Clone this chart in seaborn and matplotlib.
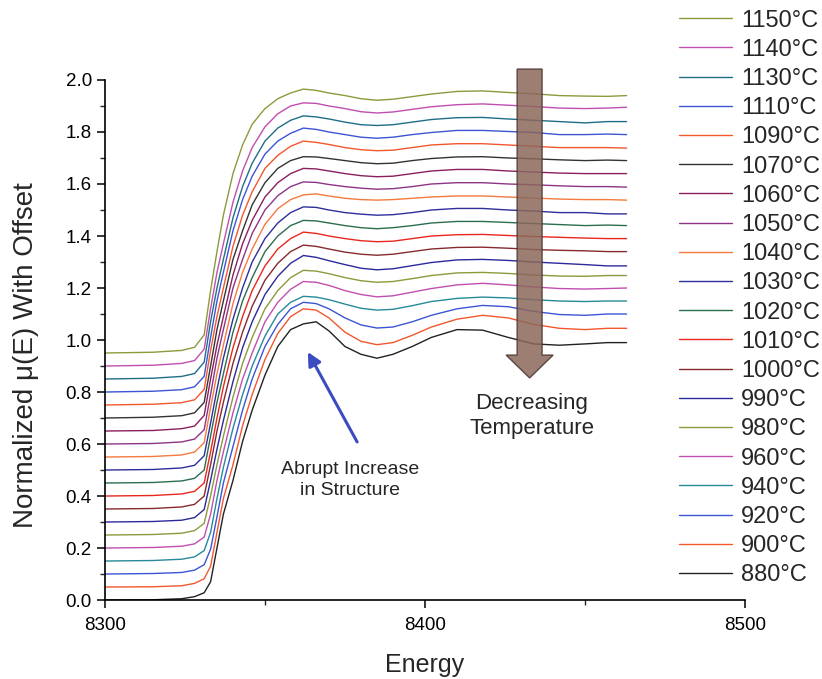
import matplotlib.pyplot as plt
from matplotlib.patches import FancyArrow
from matplotlib.ticker import MultipleLocator
import pandas as pd
import seaborn as sns

# Energy grid (eV) shared by every scan
energy = [8300, 8315, 8324, 8328, 8331, 8333, 8335, 8337, 8340, 8343, 8346,
          8350, 8354, 8358, 8362, 8366, 8370, 8375, 8380, 8385, 8390, 8396,
          8402, 8410, 8418, 8426, 8434, 8442, 8450, 8457, 8463]

# Normalized mu(E) (before the offset is added)
mu_1150 = [0.0, 0.003, 0.010, 0.022, 0.07, 0.24, 0.39, 0.53, 0.69, 0.80, 0.88, 0.94, 0.978, 1.0,
           1.015, 1.01, 1.0, 0.99, 0.978, 0.972, 0.976, 0.986, 0.996, 1.006, 1.008, 1.002, 0.997, 0.99, 0.988, 0.987, 0.99]
mu_1140 = [0.0, 0.003, 0.010, 0.021, 0.065, 0.22, 0.36, 0.47, 0.63, 0.75, 0.84, 0.92, 0.97, 1.0,
           1.012, 1.01, 1.0, 0.99, 0.978, 0.973, 0.977, 0.987, 0.997, 1.005, 1.008, 1.003, 0.998, 0.992, 0.99, 0.992, 0.995]
mu_1130 = [0.0, 0.003, 0.010, 0.021, 0.065, 0.22, 0.35, 0.46, 0.62, 0.74, 0.83, 0.915, 0.965, 0.995,
           1.012, 1.008, 1.0, 0.988, 0.978, 0.975, 0.978, 0.988, 0.998, 1.005, 1.006, 1.0, 0.995, 0.99, 0.985, 0.99, 0.99]
mu_1110 = [0.0, 0.003, 0.009, 0.020, 0.06, 0.21, 0.35, 0.46, 0.62, 0.74, 0.83, 0.915, 0.965, 0.995,
           1.015, 1.01, 1.0, 0.99, 0.98, 0.976, 0.98, 0.99, 0.998, 1.006, 1.006, 1.002, 0.998, 0.99, 0.99, 0.992, 0.99]
mu_1090 = [0.0, 0.003, 0.009, 0.020, 0.06, 0.21, 0.34, 0.45, 0.61, 0.73, 0.82, 0.91, 0.96, 0.995,
           1.015, 1.01, 1.002, 0.99, 0.982, 0.978, 0.98, 0.99, 1.0, 1.005, 1.005, 1.0, 0.995, 0.99, 0.99, 0.99, 0.988]
mu_1070 = [0.0, 0.003, 0.009, 0.020, 0.06, 0.20, 0.34, 0.45, 0.61, 0.72, 0.82, 0.905, 0.96, 0.99,
           1.005, 1.004, 0.998, 0.99, 0.982, 0.978, 0.98, 0.99, 0.998, 1.004, 1.005, 1.0, 0.997, 0.993, 0.99, 0.992, 0.99]
mu_1060 = [0.0, 0.002, 0.009, 0.019, 0.06, 0.20, 0.33, 0.44, 0.60, 0.72, 0.81, 0.90, 0.955, 0.99,
           1.01, 1.008, 1.0, 0.99, 0.982, 0.978, 0.98, 0.99, 1.0, 1.006, 1.006, 1.0, 0.996, 0.992, 0.99, 0.99, 0.99]
mu_1050 = [0.0, 0.002, 0.008, 0.019, 0.055, 0.19, 0.33, 0.44, 0.60, 0.71, 0.81, 0.90, 0.955, 0.99,
           1.008, 1.006, 0.998, 0.99, 0.984, 0.98, 0.982, 0.99, 1.0, 1.005, 1.005, 1.0, 0.997, 0.993, 0.99, 0.99, 0.988]
mu_1040 = [0.0, 0.002, 0.008, 0.019, 0.055, 0.19, 0.32, 0.43, 0.59, 0.71, 0.80, 0.895, 0.955, 0.99,
           1.008, 1.012, 1.004, 0.995, 0.99, 0.988, 0.99, 0.995, 1.0, 1.004, 1.004, 1.0, 0.996, 0.992, 0.99, 0.99, 0.988]
mu_1030 = [0.0, 0.002, 0.008, 0.018, 0.055, 0.18, 0.31, 0.43, 0.58, 0.70, 0.80, 0.89, 0.95, 0.99,
           1.012, 1.01, 1.0, 0.99, 0.984, 0.98, 0.982, 0.99, 1.0, 1.006, 1.006, 1.0, 0.996, 0.99, 0.99, 0.985, 0.985]
mu_1020 = [0.0, 0.002, 0.008, 0.018, 0.05, 0.18, 0.31, 0.42, 0.58, 0.70, 0.79, 0.89, 0.95, 0.99,
           1.01, 1.008, 1.0, 0.99, 0.982, 0.978, 0.982, 0.99, 1.0, 1.006, 1.006, 1.002, 0.998, 0.994, 0.99, 0.992, 0.99]
mu_1010 = [0.0, 0.002, 0.008, 0.018, 0.05, 0.17, 0.30, 0.42, 0.57, 0.69, 0.79, 0.885, 0.95, 0.99,
           1.015, 1.01, 1.0, 0.99, 0.982, 0.978, 0.98, 0.99, 1.0, 1.005, 1.006, 1.002, 0.998, 0.995, 0.992, 0.99, 0.99]
mu_1000 = [0.0, 0.002, 0.008, 0.018, 0.05, 0.17, 0.30, 0.41, 0.56, 0.68, 0.78, 0.88, 0.945, 0.99,
           1.015, 1.01, 1.0, 0.988, 0.98, 0.976, 0.98, 0.99, 1.0, 1.006, 1.007, 1.003, 0.998, 0.995, 0.993, 0.99, 0.99]
mu_990 = [0.0, 0.002, 0.007, 0.017, 0.048, 0.16, 0.28, 0.39, 0.54, 0.67, 0.77, 0.875, 0.945, 0.995,
          1.025, 1.018, 1.005, 0.99, 0.976, 0.97, 0.974, 0.986, 0.998, 1.008, 1.01, 1.006, 1.0, 0.995, 0.99, 0.985, 0.985]
mu_980 = [0.0, 0.002, 0.007, 0.017, 0.045, 0.15, 0.27, 0.38, 0.53, 0.66, 0.76, 0.87, 0.94, 0.99,
          1.018, 1.015, 1.005, 0.99, 0.978, 0.972, 0.975, 0.986, 0.998, 1.008, 1.01, 1.006, 1.0, 0.996, 0.995, 0.998, 0.998]
mu_960 = [0.0, 0.002, 0.007, 0.016, 0.042, 0.13, 0.26, 0.37, 0.52, 0.65, 0.75, 0.87, 0.945, 0.995,
          1.025, 1.022, 1.01, 0.99, 0.975, 0.966, 0.97, 0.984, 0.998, 1.012, 1.018, 1.012, 1.004, 0.998, 0.996, 0.998, 1.0]
mu_940 = [0.0, 0.002, 0.007, 0.016, 0.04, 0.11, 0.24, 0.36, 0.51, 0.64, 0.75, 0.865, 0.95, 0.995,
          1.018, 1.015, 1.005, 0.988, 0.972, 0.965, 0.968, 0.982, 0.998, 1.01, 1.015, 1.012, 1.005, 1.0, 0.998, 1.0, 1.0]
mu_920 = [0.0, 0.002, 0.006, 0.015, 0.036, 0.095, 0.22, 0.35, 0.49, 0.63, 0.75, 0.875, 0.96, 1.02,
          1.045, 1.04, 1.02, 0.985, 0.958, 0.946, 0.95, 0.97, 0.995, 1.02, 1.033, 1.028, 1.01, 0.998, 0.995, 1.0, 1.0]
mu_900 = [0.0, 0.001, 0.005, 0.014, 0.032, 0.08, 0.21, 0.34, 0.47, 0.62, 0.74, 0.875, 0.975, 1.04,
          1.07, 1.065, 1.035, 0.98, 0.945, 0.932, 0.94, 0.968, 1.0, 1.03, 1.045, 1.035, 1.01, 0.995, 0.99, 0.995, 0.995]
mu_880 = [0.0, 0.001, 0.005, 0.013, 0.028, 0.07, 0.20, 0.33, 0.46, 0.61, 0.73, 0.865, 0.975, 1.04,
          1.062, 1.07, 1.035, 0.975, 0.945, 0.93, 0.945, 0.975, 1.01, 1.04, 1.038, 1.01, 0.985, 0.98, 0.985, 0.99, 0.99]

# bottom to top (each scan is lifted by 0.05)
temps = ['880°C', '900°C', '920°C', '940°C', '960°C', '980°C', '990°C', '1000°C', '1010°C', '1020°C',
         '1030°C', '1040°C', '1050°C', '1060°C', '1070°C', '1090°C', '1110°C', '1130°C', '1140°C', '1150°C']
scans = [mu_880, mu_900, mu_920, mu_940, mu_960, mu_980, mu_990, mu_1000, mu_1010, mu_1020,
         mu_1030, mu_1040, mu_1050, mu_1060, mu_1070, mu_1090, mu_1110, mu_1130, mu_1140, mu_1150]
offset_step = 0.05

colors = ['#222222', '#f2572e', '#3b55d4', '#268a9a', '#c04fb0', '#8d9a3c', '#2b2a9c', '#862a2e', '#e8281e', '#2b6e4e',
          '#2d2f9a', '#f47a3e', '#8e3486', '#8a1f5e', '#333333', '#f2572e', '#3b55d4', '#1f6e86', '#c04fb0', '#8d9a3c']

rows = []
for i, (t, mu) in enumerate(zip(temps, scans)):
    for e, m in zip(energy, mu):
        rows.append((e, m + offset_step * i, t))
df = pd.DataFrame(rows, columns=['Energy', 'mu', 'Temp'])

sns.set_style('ticks')
plt.rcParams['font.family'] = ['Liberation Sans', 'DejaVu Sans']

fig = plt.figure(figsize=(8.22, 6.79), dpi=100)
ax = fig.add_axes([0.1277, 0.1163, 0.7786, 0.7659])

sns.lineplot(data=df, x='Energy', y='mu', hue='Temp', hue_order=temps[::-1],
             palette=dict(zip(temps, colors)), linewidth=1.0, sort=False,
             estimator=None, ax=ax)

ax.set_xlim(8300, 8500)
ax.set_ylim(0, 2.0)
ax.xaxis.set_major_locator(MultipleLocator(100))
ax.xaxis.set_minor_locator(MultipleLocator(50))
ax.yaxis.set_major_locator(MultipleLocator(0.2))
ax.yaxis.set_minor_locator(MultipleLocator(0.1))
ax.yaxis.set_major_formatter(plt.FormatStrFormatter('%.1f'))
ax.tick_params(which='major', length=6, width=1.1, labelsize=13.5, colors='black')
ax.tick_params(axis='x', which='major', pad=6)
ax.tick_params(which='minor', length=3.5, width=1.0)
sns.despine(ax=ax)
for s in ['left', 'bottom']:
    ax.spines[s].set_linewidth(1.2)
    ax.spines[s].set_color('black')

ax.set_xlabel('Energy', fontsize=18, labelpad=14)
ax.set_ylabel('Normalized μ(E) With Offset', fontsize=20)
ax.yaxis.set_label_coords(-0.103, 0.471)

# legend outside on the right
handles, labels = ax.get_legend_handles_labels()
ax.legend(handles, labels, loc='upper left', bbox_to_anchor=(0.826, 0.986),
          bbox_transform=fig.transFigure, frameon=False, fontsize=17,
          handlelength=2.25, handletextpad=0.38, labelspacing=0.305,
          borderpad=0, borderaxespad=0)

# big brown arrow
arrow = FancyArrow(8432.7, 2.042, 0, 0.854 - 2.042, width=7.8, head_width=14.7,
                   head_length=0.088, length_includes_head=True,
                   facecolor='#8b675b', edgecolor='#4a3530', alpha=0.85,
                   linewidth=1.0, clip_on=False, zorder=5)
ax.add_patch(arrow)
ax.text(8433.4, 0.708, 'Decreasing\nTemperature', ha='center', va='center',
        fontsize=16, linespacing=1.25)

# blue arrow and note
ax.annotate('', xy=(8363.4, 0.954), xytext=(8378.8, 0.608),
            arrowprops=dict(arrowstyle='-|>', color='#3a4cc0', lw=2.2,
                            mutation_scale=20, shrinkA=0, shrinkB=0))
ax.text(8376.6, 0.46, 'Abrupt Increase\nin Structure', ha='center', va='center',
        fontsize=14, linespacing=1.3)

fig.savefig('out.png', dpi=100)
